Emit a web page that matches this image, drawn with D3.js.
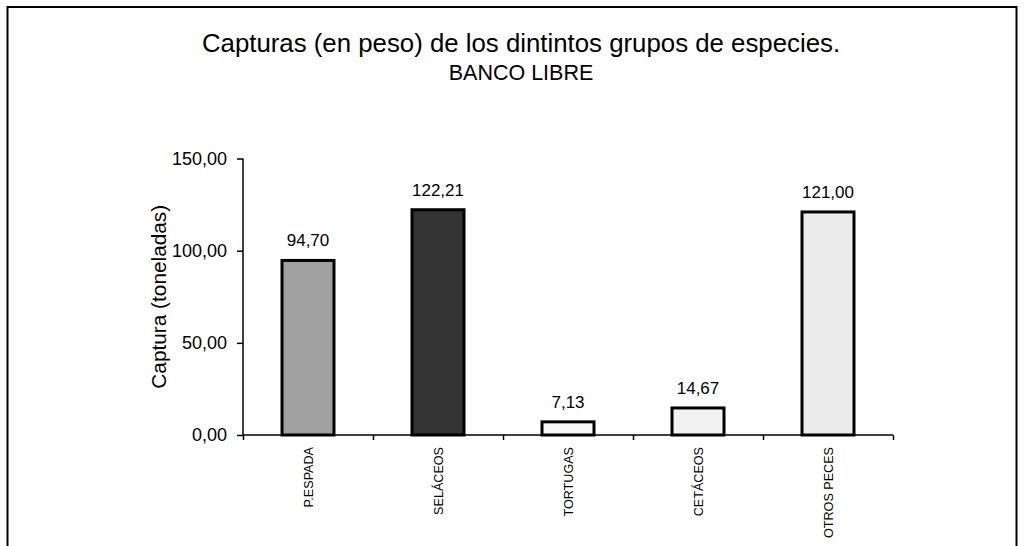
<!DOCTYPE html>
<html>
<head>
<meta charset="utf-8">
<script src="https://cdn.jsdelivr.net/npm/d3@7"></script>
<style>
  html, body { margin: 0; padding: 0; background: #fff; }
  svg { display: block; font-family: "Liberation Sans", Arial, sans-serif; }
</style>
</head>
<body>
<svg id="chart" width="1026" height="546"></svg>
<script>
const categories = ["P.ESPADA", "SELÁCEOS", "TORTUGAS", "CETÁCEOS", "OTROS PECES"];
const values = [94.70, 122.21, 7.13, 14.67, 121.00];
const fills = ["#a0a0a0", "#333333", "#f8f8f8", "#f2f2f2", "#ebebeb"];
const yTicks = [0, 50, 100, 150];
const title = "Capturas (en peso) de los dintintos grupos de especies.";
const subtitle = "BANCO LIBRE";
const yLabel = "Captura (toneladas)";

(function () {
const svg = d3.select("#chart");
const fmt = v => d3.format(".2f")(v).replace(".", ",");

// outer frame
svg.append("rect").attr("x", 7.5).attr("y", 7).attr("width", 1009).attr("height", 560)
  .attr("fill", "none").attr("stroke", "#000").attr("stroke-width", 2);

const pLeft = 243, pRight = 893, pTop = 158.5, pBottom = 435;
const x = d3.scaleBand().domain(categories).range([pLeft, pRight]).paddingInner(0).paddingOuter(0);
const y = d3.scaleLinear().domain([0, 150]).range([pBottom, pTop]);

// titles
svg.append("text").attr("x", 521).attr("y", 52).attr("text-anchor", "middle")
  .attr("font-size", 25.8).attr("fill", "#000").text(title);
svg.append("text").attr("x", 521).attr("y", 80).attr("text-anchor", "middle")
  .attr("font-size", 21.5).attr("fill", "#000").text(subtitle);

// y label
svg.append("text").attr("transform", `translate(166,${(pTop + pBottom) / 2}) rotate(-90)`)
  .attr("text-anchor", "middle").attr("font-size", 20.8).attr("fill", "#000").text(yLabel);

// bars
const bw = 52;
svg.append("g").selectAll("rect").data(values).join("rect")
  .attr("x", (d, i) => x(categories[i]) + x.bandwidth() / 2 - bw / 2)
  .attr("y", d => y(d))
  .attr("width", bw)
  .attr("height", d => pBottom - y(d))
  .attr("fill", (d, i) => fills[i])
  .attr("stroke", "#000").attr("stroke-width", 3);

// value labels
svg.append("g").selectAll("text").data(values).join("text")
  .attr("x", (d, i) => x(categories[i]) + x.bandwidth() / 2)
  .attr("y", d => y(d) - 14)
  .attr("text-anchor", "middle").attr("font-size", 17).attr("fill", "#000")
  .text(d => fmt(d));

// y axis
const yAxis = d3.axisLeft(y).tickValues(yTicks).tickFormat(fmt).tickSize(6).tickPadding(10);
const gy = svg.append("g").attr("transform", `translate(${pLeft},0)`).call(yAxis);
gy.select(".domain").attr("d", `M0,${pTop}V${pBottom}`).attr("stroke", "#000").attr("stroke-width", 1.5);
gy.selectAll(".tick line").attr("stroke", "#000").attr("stroke-width", 1.5);
gy.selectAll(".tick text").attr("font-size", 18).attr("fill", "#000")
  .attr("font-family", "Liberation Sans, Arial, sans-serif");

// x axis
const xb = d3.scaleLinear().domain([0, categories.length]).range([pLeft, pRight]);
const gx = svg.append("g").attr("transform", `translate(0,${pBottom})`)
  .call(d3.axisBottom(xb).tickValues(d3.range(categories.length + 1)).tickSize(5).tickFormat(""));
gx.select(".domain").attr("d", `M${pLeft},0H${pRight}`).attr("stroke", "#000").attr("stroke-width", 1.5);
gx.selectAll(".tick line").attr("stroke", "#000").attr("stroke-width", 1.5);

// category labels
svg.append("g").selectAll("text").data(categories).join("text")
  .attr("transform", d => `translate(${x(d) + x.bandwidth() / 2 + 5},447) rotate(-90)`)
  .attr("text-anchor", "end").attr("font-size", 12.6).attr("fill", "#000")
  .text(d => d);
})();
</script>
</body>
</html>
